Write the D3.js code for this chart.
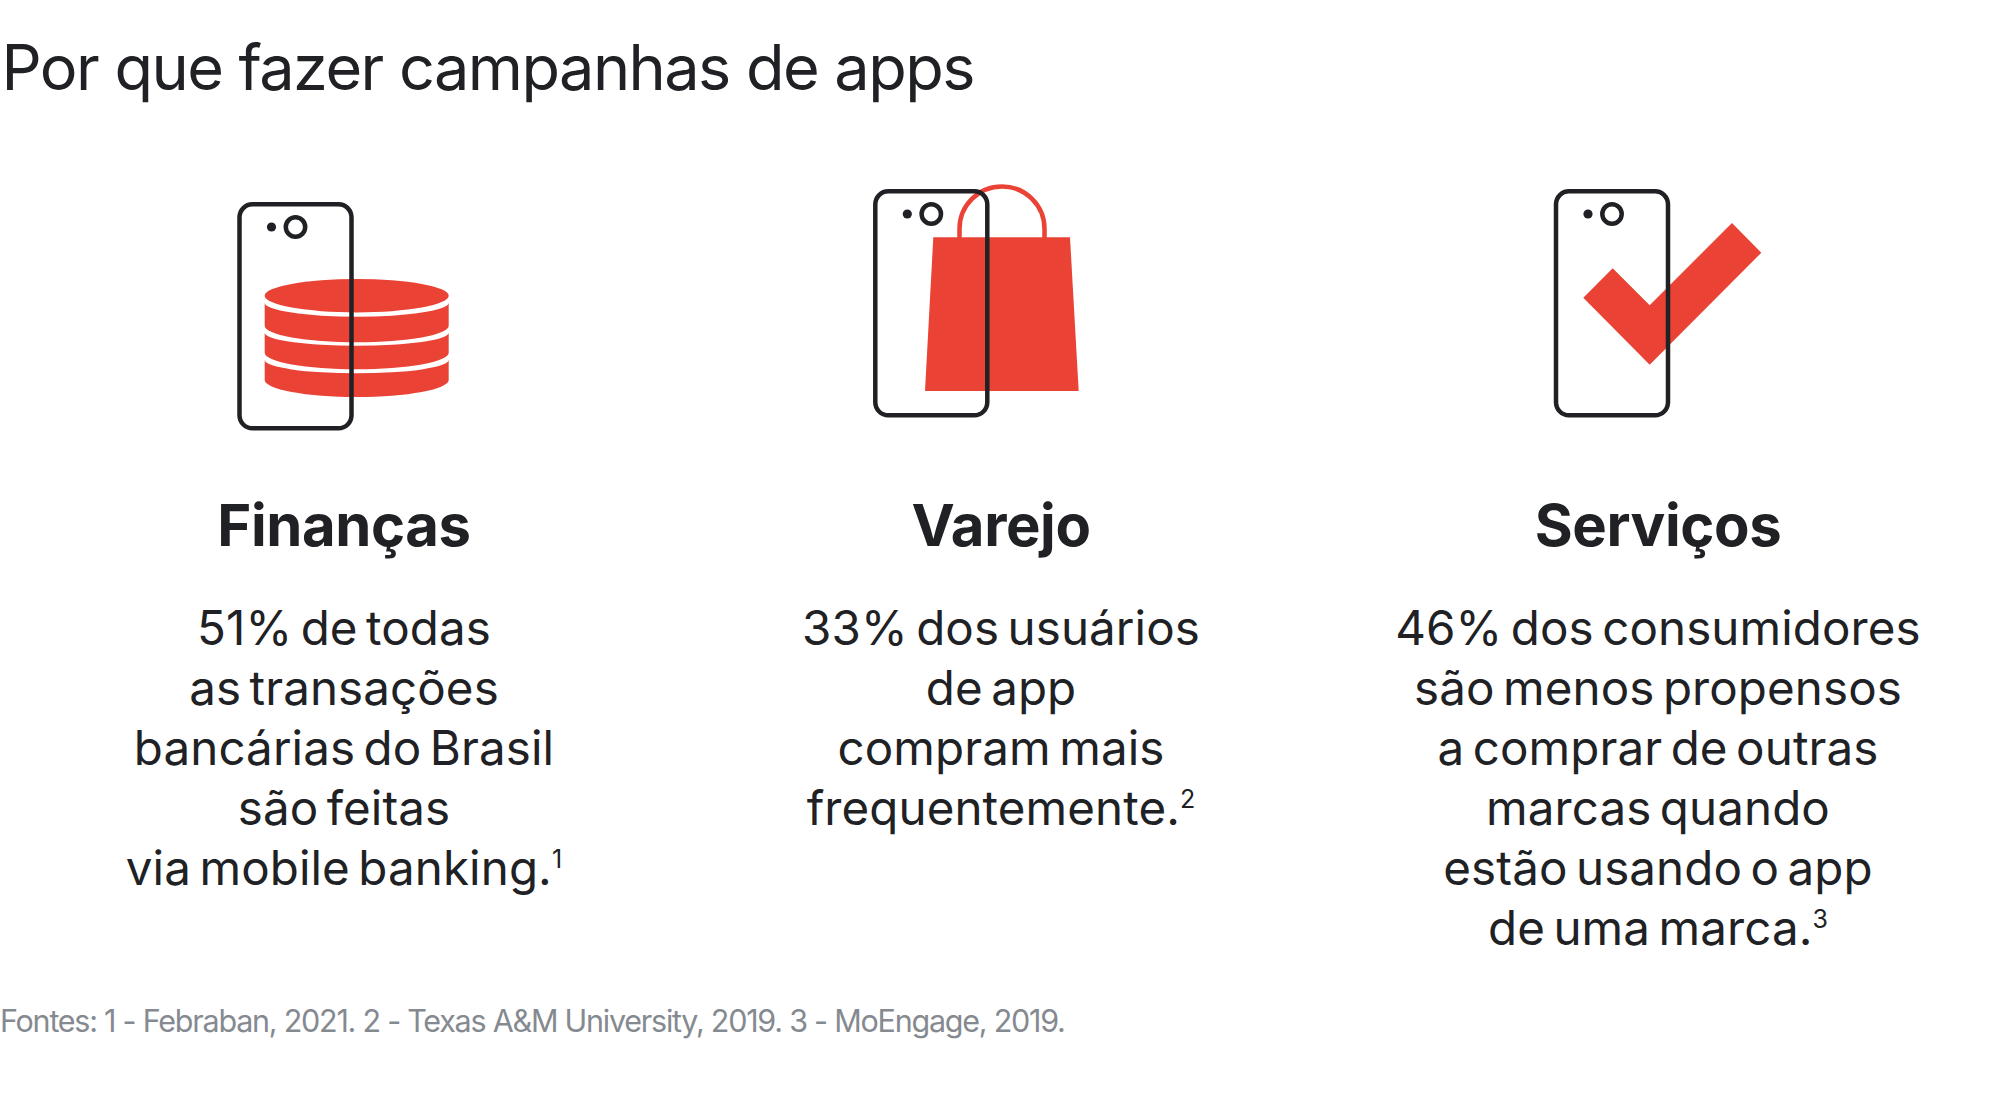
<!DOCTYPE html>
<html><head><meta charset="utf-8">
<script src="https://cdn.jsdelivr.net/npm/d3@7/dist/d3.min.js"></script>
<style>html,body{margin:0;padding:0;background:#fff}svg{display:block}</style></head>
<body><script>
const titleText = "Por que fazer campanhas de apps";
const categories = ["Finanças", "Varejo", "Serviços"];
const statLines = [
  ["51% de todas","as transações","bancárias do Brasil","são feitas","via mobile banking."],
  ["33% dos usuários","de app","compram mais","frequentemente."],
  ["46% dos consumidores","são menos propensos","a comprar de outras","marcas quando","estão usando o app","de uma marca."]
];
const footnoteMarks = ["1","2","3"];
const sourceText = "Fontes: 1 - Febraban, 2021. 2 - Texas A&M University, 2019. 3 - MoEngage, 2019.";

const RED="#ea4335", INK="#202124", GREY="#858a90", FONT="Inter, 'Open Sans', sans-serif";
const svg=d3.select("body").append("svg").attr("width",2000).attr("height",1107);
const x=d3.scalePoint().domain(categories).range([344,1658]);
svg.append("text").text(titleText).attr("x",1.5).attr("y",90).attr("font-family",FONT)
  .attr("font-size",63).attr("letter-spacing",-1.55).attr("fill",INK);

// icons
function phone(g,px,py){
  g.append("rect").attr("x",px).attr("y",py).attr("width",112).attr("height",224).attr("rx",13)
   .attr("fill","none").attr("stroke",INK).attr("stroke-width",4.5);
  g.append("circle").attr("cx",px+56).attr("cy",py+22.7).attr("r",9.7).attr("fill","none").attr("stroke",INK).attr("stroke-width",4.5);
  g.append("circle").attr("cx",px+32).attr("cy",py+22.7).attr("r",4.6).attr("fill",INK);
}
const icons=svg.append("g");
// coins
const g1=icons.append("g");
const cx=356.7,rx=92,L=cx-rx,R=cx+rx;
[[360,13.3,380,17],[332.7,13,352.7,16.6],[302.7,14,325.7,16.6]].forEach(([top,ryT,side,ryB])=>{
  g1.append("path").attr("fill",RED)
    .attr("d",`M${L},${top}A${rx},${ryT} 0 0 0 ${R},${top}L${R},${side}A${rx},${ryB} 0 0 1 ${L},${side}Z`);
});
g1.append("ellipse").attr("cx",cx).attr("cy",295.7).attr("rx",rx).attr("ry",16.7).attr("fill",RED);
phone(g1,239.5,204.3);
// bag
const g2=icons.append("g");
g2.append("path").attr("d",d3.line()([[933.3,237.3],[1070,237.3],[1078.7,391],[925,391]])+"Z").attr("fill",RED);
const h=d3.path(); h.moveTo(959.5,238); h.lineTo(959.5,229); h.arc(1002,229,42.5,Math.PI,0); h.lineTo(1044.5,238);
g2.append("path").attr("d",h.toString()).attr("fill","none").attr("stroke",RED).attr("stroke-width",4.5);
phone(g2,875.3,191.3);
// check
const g3=icons.append("g");
g3.append("path").attr("d",d3.line()([[1583.3,297.7],[1612.7,268.3],[1649.7,305.3],[1732,223],[1761.3,252.7],[1649.7,364.7]])+"Z").attr("fill",RED);
phone(g3,1556,191.3);

// text
categories.forEach((c,i)=>{
  svg.append("text").text(c).attr("x",x(c)).attr("y",546).attr("text-anchor","middle")
    .attr("font-family",FONT).attr("font-weight",700).attr("font-size",58).attr("letter-spacing",-0.4).attr("fill",INK);
  statLines[i].forEach((l,j)=>{
    const t=svg.append("text").attr("x",x(c)).attr("y",645+j*60).attr("text-anchor","middle")
      .attr("font-family",FONT).attr("font-size",47.5).attr("letter-spacing",0.1).attr("word-spacing",-5).attr("fill",INK);
    t.append("tspan").text(l);
    if(j===statLines[i].length-1) t.append("tspan").text(footnoteMarks[i]).attr("font-size",25).attr("dy",-17);
  });
});
svg.append("text").text(sourceText).attr("x",0).attr("y",1032).attr("font-family",FONT)
  .attr("font-size",30.5).attr("letter-spacing",-1.24).attr("fill",GREY);
</script></body></html>
